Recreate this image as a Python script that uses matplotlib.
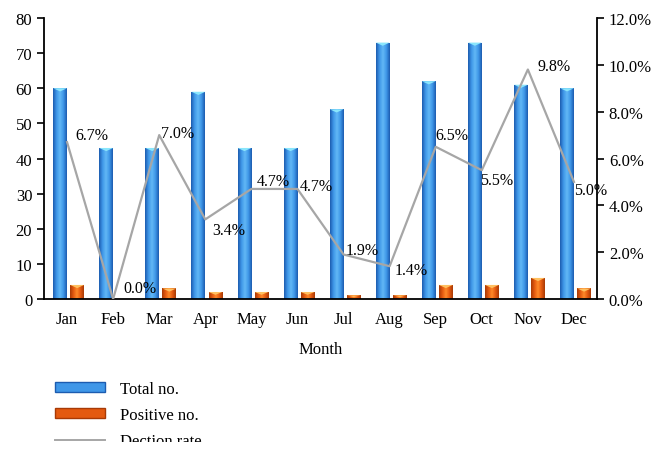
import matplotlib.pyplot as plt
import numpy as np
from matplotlib.colors import LinearSegmentedColormap
from matplotlib.patches import Patch, Polygon, Rectangle
from matplotlib.lines import Line2D
from matplotlib.ticker import FuncFormatter

plt.rcParams['font.family'] = ['Liberation Serif', 'DejaVu Serif']

months = ["Jan", "Feb", "Mar", "Apr", "May", "Jun", "Jul", "Aug", "Sep", "Oct", "Nov", "Dec"]
total_no = [60, 43, 43, 59, 43, 43, 54, 73, 62, 73, 61, 60]
positive_no = [4, 0, 3, 2, 2, 2, 1, 1, 4, 4, 6, 3]
rate = [6.7, 0.0, 7.0, 3.4, 4.7, 4.7, 1.9, 1.4, 6.5, 5.5, 9.8, 5.0]

# label offsets in pixels (dx, dy) for the rate annotations
label_offsets = [(8, 7), (10, 11), (2, 2), (7, -11), (5, 8), (2, 3),
                 (2, 5), (5, -4), (0, 12), (-2, -10), (10, 4), (0, -8)]

blue_cmap = LinearSegmentedColormap.from_list("b", ["#1c5cb0", "#3f97e8", "#62b8f6", "#3f97e8", "#1c5cb0"])
orange_cmap = LinearSegmentedColormap.from_list("o", ["#a83a05", "#e45a10", "#ff8a2a", "#e45a10", "#a83a05"])

fig = plt.figure(figsize=(6.66, 4.56), dpi=100)
ax = fig.add_axes([44 / 666, 156 / 456, 553 / 666, 281 / 456])
ax2 = ax.twinx()

x = np.arange(len(months))
w = 0.3
grad = np.linspace(0, 1, 64).reshape(1, -1)


def fancy_bars(xs, vals, cmap, cap_color):
    bars = ax.bar(xs, vals, width=w, color="none", edgecolor="none", zorder=2)
    for r, v in zip(bars, vals):
        if v <= 0:
            continue
        x0, x1 = r.get_x(), r.get_x() + r.get_width()
        im = ax.imshow(grad, extent=[x0, x1, 0, v], aspect="auto", cmap=cmap, zorder=2)
        im.set_clip_path(r)
        d = min(0.9, v * 0.4)
        cap = Polygon([(x0, v), (x1, v), ((x0 + x1) / 2, v - d)], closed=True,
                      facecolor=cap_color, edgecolor="none", zorder=3)
        ax.add_patch(cap)


fancy_bars(x - 0.15, total_no, blue_cmap, "#8ae6fc")
fancy_bars(x + 0.22, positive_no, orange_cmap, "#ffc060")

ax.set_xlim(-0.5, len(months) - 0.5)
ax.set_ylim(0, 80)
ax.set_yticks(range(0, 81, 10))
ax.set_xticks(x)
ax.set_xticklabels(months, fontsize=12)
ax.tick_params(axis="x", length=0, pad=9)
ax.tick_params(axis="y", labelsize=12, length=5, width=1.2, direction="out")
ax.set_xlabel("Month", fontsize=12, labelpad=10)

ax2.plot(x, rate, color="#a6a6a6", lw=1.6, zorder=4)
ax2.set_ylim(0, 12)
ax2.set_yticks(range(0, 13, 2))
ax2.yaxis.set_major_formatter(FuncFormatter(lambda v, p: f"{v:.1f}%"))
ax2.tick_params(axis="y", labelsize=12, length=5, width=1.2, direction="out")
for xi, r, (dx, dy) in zip(x, rate, label_offsets):
    ax2.annotate(f"{r:.1f}%", (xi, r), xytext=(dx, dy), textcoords="offset pixels",
                 ha="left", va="center", fontsize=11.5, zorder=5)

for a in (ax, ax2):
    a.spines["top"].set_visible(False)
    for s in ("left", "right", "bottom"):
        a.spines[s].set_linewidth(1.3)
        a.spines[s].set_color("black")
ax.spines["right"].set_visible(False)
ax2.spines["left"].set_visible(False)
ax2.spines["bottom"].set_visible(False)

handles = [Patch(facecolor="#3f97e8", edgecolor="#1c5cb0"),
           Patch(facecolor="#e45a10", edgecolor="#a83a05"),
           Line2D([], [], color="#a6a6a6", lw=1.4)]
fig.legend(handles, ["Total no.", "Positive no.", "Dection rate"], loc="upper left",
           bbox_to_anchor=(40 / 666, 1 - 367 / 456), bbox_transform=fig.transFigure,
           frameon=False, fontsize=12, handlelength=3.0, handleheight=0.55,
           labelspacing=0.6, handletextpad=0.9)

# the source image is cropped just below the top of the last legend row
fig.patches.append(Rectangle((0, 0), 1, 13 / 456, transform=fig.transFigure,
                             facecolor="white", edgecolor="none", zorder=10))

fig.savefig("out.png", dpi=100)
